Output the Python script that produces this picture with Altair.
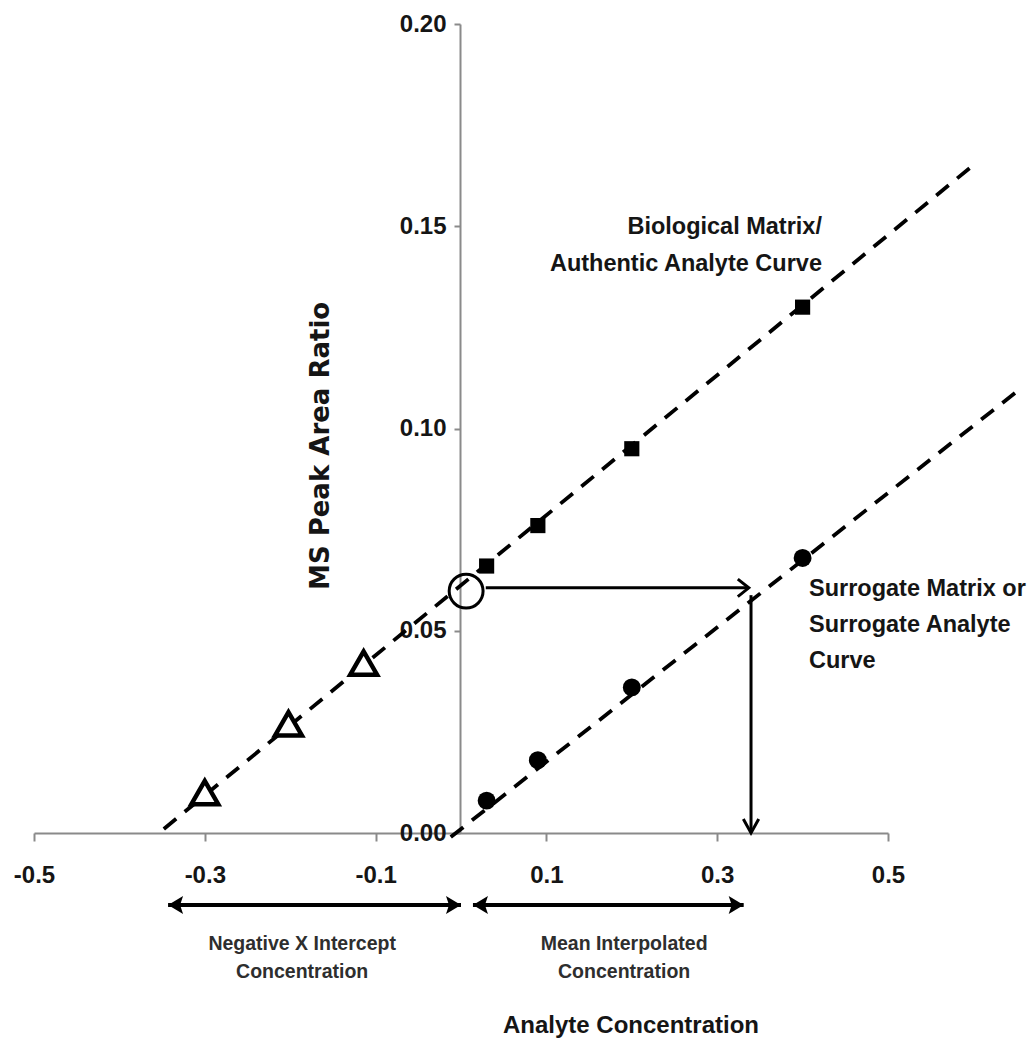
import altair as alt
import pandas as pd

# ---------------- data ----------------
x_ticks = [-0.5, -0.3, -0.1, 0.1, 0.3, 0.5]
y_ticks = [0.00, 0.05, 0.10, 0.15, 0.20]

# Biological matrix / authentic analyte curve (filled squares)
bio_x = [0.03, 0.09, 0.20, 0.40]
bio_y = [0.066, 0.076, 0.095, 0.130]
# Surrogate matrix / surrogate analyte curve (filled circles)
sur_x = [0.03, 0.09, 0.20, 0.40]
sur_y = [0.008, 0.018, 0.036, 0.068]
# Extrapolated points on the negative side (open triangles)
neg_x = [-0.300, -0.202, -0.114]
neg_y = [0.010, 0.027, 0.042]

# Fitted (dashed) lines, end points
bio_fit_x = [-0.348, 0.605]
bio_fit_y = [0.001, 0.166]
sur_fit_x = [-0.012, 0.650]
sur_fit_y = [-0.001, 0.109]

# Y-intercept marker (open circle)
icpt_x = [0.006]
icpt_y = [0.0598]

# Arrows
h_arrow_x = [0.029, 0.337]
h_arrow_y = [0.0606, 0.0606]
v_arrow_x = [0.3396, 0.3396]
v_arrow_y = [0.0588, 0.0]
neg_range_x = [-0.343, 0.0]
mean_range_x = [0.014, 0.331]
range_y = [-0.0178, -0.0178]

# Annotations
bio_lbl = ["Biological Matrix/", "Authentic Analyte Curve"]
bio_lbl_x = [0.4227, 0.4227]
bio_lbl_y = [0.1497, 0.1407]
sur_lbl = ["Surrogate Matrix or", "Surrogate Analyte", "Curve"]
sur_lbl_x = [0.4075, 0.4075, 0.4075]
sur_lbl_y = [0.0603, 0.0514, 0.0425]
range_lbl = ["Negative X Intercept", "Concentration", "Mean Interpolated", "Concentration"]
range_lbl_x = [-0.186, -0.186, 0.191, 0.191]
range_lbl_y = [-0.0274, -0.0344, -0.0274, -0.0344]
x_title = ["Analyte Concentration"]
x_title_x = [0.199]
x_title_y = [-0.0477]
y_title = ["MS Peak Area Ratio"]
y_title_x = [-0.164]
y_title_y = [0.0957]

FONT = "Liberation Sans, Arial, Helvetica, sans-serif"
AX = "#8a8a8a"
TXT = "#151515"

# ---------------- encodings ----------------
X = alt.X(
    "x:Q",
    scale=alt.Scale(domain=[-0.5, 0.5], nice=False, zero=False),
    axis=alt.Axis(
        values=x_ticks, title=None, grid=False,
        labelExpr="datum.value < 0 ? '-' + format(-datum.value, '.1f') : format(datum.value, '.1f')",
        labelFont=FONT, labelFontSize=24, labelFontWeight="bold", labelColor=TXT,
        tickSize=8, tickWidth=2, tickColor=AX, domainColor=AX, domainWidth=2,
        labelPadding=22, labelFlush=False, labelOverlap=False,
    ),
)
Y = alt.Y(
    "y:Q",
    scale=alt.Scale(domain=[0, 0.2], nice=False, zero=False),
    axis=alt.Axis(
        values=y_ticks, title=None, grid=False, format=".2f", offset=-426,
        labelFont=FONT, labelFontSize=24, labelFontWeight="bold", labelColor=TXT,
        tickSize=6, tickWidth=2, tickColor=AX, domainColor=AX, domainWidth=2,
        labelPadding=8, labelOverlap=False,
    ),
)


def df(xs, ys, **extra):
    d = {"x": xs, "y": ys}
    d.update(extra)
    return pd.DataFrame(d)


def enc(ch):
    return ch.encode(x=X, y=Y)


layers = []

# dashed fit lines
for fx, fy in [(bio_fit_x, bio_fit_y), (sur_fit_x, sur_fit_y)]:
    layers.append(enc(alt.Chart(df(fx, fy)).mark_line(
        color="black", strokeWidth=3.8, strokeDash=[16, 11])))

# arrow shafts
layers.append(enc(alt.Chart(df(h_arrow_x, h_arrow_y)).mark_line(color="black", strokeWidth=3)))
layers.append(enc(alt.Chart(df(v_arrow_x, v_arrow_y)).mark_line(color="black", strokeWidth=3)))
layers.append(enc(alt.Chart(df(neg_range_x, range_y)).mark_line(color="black", strokeWidth=4)))
layers.append(enc(alt.Chart(df(mean_range_x, range_y)).mark_line(color="black", strokeWidth=4)))

# open chevron heads
layers.append(enc(alt.Chart(df([h_arrow_x[1]], [h_arrow_y[1]])).mark_point(
    shape="M-1,-0.8L0,0L-1,0.8", size=484, filled=False, stroke="black", strokeWidth=3, opacity=1)))
layers.append(enc(alt.Chart(df([v_arrow_x[1]], [v_arrow_y[1]])).mark_point(
    shape="M-0.55,-1L0,0L0.55,-1", size=784, filled=False, stroke="black", strokeWidth=3, opacity=1)))

# filled heads for range arrows
right_head = "M0,0L-1,-0.6L-0.8,0L-1,0.6Z"
left_head = "M0,0L1,-0.6L0.8,0L1,0.6Z"
layers.append(enc(alt.Chart(df([neg_range_x[1], mean_range_x[1]], range_y)).mark_point(
    shape=right_head, size=900, filled=True, color="black", opacity=1)))
layers.append(enc(alt.Chart(df([neg_range_x[0], mean_range_x[0]], range_y)).mark_point(
    shape=left_head, size=900, filled=True, color="black", opacity=1)))

# data points
layers.append(enc(alt.Chart(df(bio_x, bio_y)).mark_point(
    shape="square", size=230, filled=True, color="black", opacity=1)))
layers.append(enc(alt.Chart(df(sur_x, sur_y)).mark_point(
    shape="circle", size=320, filled=True, color="black", opacity=1)))
layers.append(enc(alt.Chart(df(neg_x, neg_y)).mark_point(
    shape="triangle-up", size=720, filled=True, fill="white", stroke="black", strokeWidth=4.5, opacity=1)))
layers.append(enc(alt.Chart(df(icpt_x, icpt_y)).mark_point(
    shape="circle", size=1150, filled=False, stroke="black", strokeWidth=3, opacity=1)))

# texts
layers.append(enc(alt.Chart(df(bio_lbl_x, bio_lbl_y, t=bio_lbl)).mark_text(
    align="right", baseline="middle", font=FONT, fontSize=23.5, fontWeight="bold", color=TXT
)).encode(text="t:N"))
layers.append(enc(alt.Chart(df(sur_lbl_x, sur_lbl_y, t=sur_lbl)).mark_text(
    align="left", baseline="middle", font=FONT, fontSize=23.5, fontWeight="bold", color=TXT
)).encode(text="t:N"))
layers.append(enc(alt.Chart(df(range_lbl_x, range_lbl_y, t=range_lbl)).mark_text(
    align="center", baseline="middle", font=FONT, fontSize=19.5, fontWeight="bold", color="#2e2e2e"
)).encode(text="t:N"))
layers.append(enc(alt.Chart(df(x_title_x, x_title_y, t=x_title)).mark_text(
    align="center", baseline="middle", font=FONT, fontSize=24, fontWeight="bold", color=TXT
)).encode(text="t:N"))
layers.append(enc(alt.Chart(df(y_title_x, y_title_y, t=y_title)).mark_text(
    align="center", baseline="middle", angle=270, font="DejaVu Sans, Verdana, sans-serif",
    fontSize=26, fontWeight="bold", color=TXT
)).encode(text="t:N"))

chart = alt.layer(*layers).properties(
    width=854,
    height=809,
    autosize=alt.AutoSizeParams(type="none"),
    padding={"left": 34, "top": 24, "right": 140, "bottom": 207},
    background="white",
).configure_view(strokeWidth=0)

chart.save("out.html", embed_options={"renderer": "svg", "actions": False})
